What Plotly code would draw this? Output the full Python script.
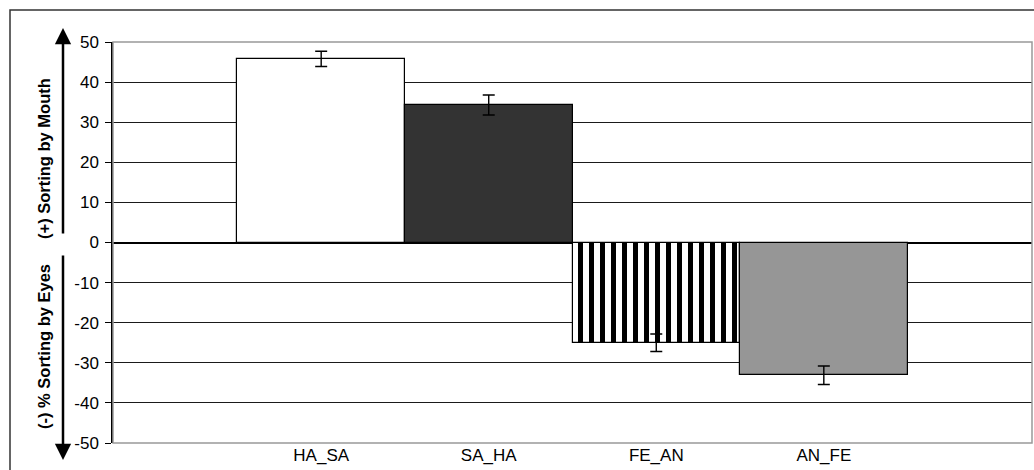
import plotly.graph_objects as go

categories = ["HA_SA", "SA_HA", "FE_AN", "AN_FE"]
values = [45.8, 34.3, -25.0, -33.1]
errors = [1.9, 2.5, 2.2, 2.3]
y_ticks = [50, 40, 30, 20, 10, 0, -10, -20, -30, -40, -50]
y_ticktext = [str(v) for v in y_ticks]

W, H = 1034, 470
L, R, T, B = 113, 1032, 42, 443

def px_x(p):
    return (p - L) / (R - L)

def px_y(p):
    return (B - p) / (B - T)

fills = ["#ffffff", "#333333", "#ffffff", "#969696"]
fig = go.Figure()
for i, (c, v, e) in enumerate(zip(categories, values, errors)):
    marker = dict(color=fills[i], line=dict(color="#000000", width=1.2))
    if i == 2:
        marker["pattern"] = dict(shape="|", fgcolor="#000000", bgcolor="#ffffff",
                                 fgopacity=1, size=11, solidity=0.45,
                                 fillmode="replace")
    fig.add_trace(go.Bar(
        x=[i], y=[v], width=1.0, marker=marker,
        error_y=dict(type="data", array=[e], visible=True, color="#000000",
                     thickness=1.4, width=6),
        showlegend=False,
    ))

fig.update_layout(
    width=W, height=H,
    margin=dict(l=L, r=W - R, t=T, b=H - B, pad=0),
    paper_bgcolor="#ffffff", plot_bgcolor="#ffffff",
    font=dict(family="Liberation Sans, Arial, sans-serif", color="#000000"),
    bargap=0,
)
fig.update_xaxes(
    range=[-1.2425, 4.2425],
    tickmode="array", tickvals=list(range(len(categories))), ticktext=categories,
    tickfont=dict(size=17), showgrid=False, zeroline=False, showline=False,
    ticks="", ticklabelstandoff=0,
)
fig.update_yaxes(
    range=[-50, 50], tickmode="array", tickvals=y_ticks, ticktext=y_ticktext,
    tickfont=dict(size=17), showgrid=True, gridcolor="#1a1a1a", gridwidth=1,
    zeroline=True, zerolinecolor="#000000", zerolinewidth=1.5,
    showline=True, linecolor="#000000", linewidth=1.5,
    ticks="outside", ticklen=6, tickcolor="#000000", tickwidth=1.2,
    ticklabelstandoff=3,
)

# plot area border (gray)
fig.add_shape(type="rect", xref="paper", yref="paper", x0=0, x1=1, y0=0, y1=1,
              line=dict(color="#999999", width=1.5), layer="above")
# outer chart border
fig.add_shape(type="rect", xref="paper", yref="paper",
              x0=px_x(10), x1=px_x(1040), y0=px_y(480), y1=px_y(10),
              line=dict(color="#333333", width=1.5))

# axis title texts
fig.add_annotation(text="<b>(+) Sorting by Mouth</b>", xref="paper", yref="paper",
                   x=px_x(44), y=px_y(159), textangle=-90, showarrow=False,
                   font=dict(size=16.5), xanchor="center", yanchor="middle")
fig.add_annotation(text="<b>(-) % Sorting by Eyes</b>", xref="paper", yref="paper",
                   x=px_x(44), y=px_y(347), textangle=-90, showarrow=False,
                   font=dict(size=16.5), xanchor="center", yanchor="middle")
# arrows
fig.add_annotation(text="", xref="paper", yref="paper", x=px_x(63), y=px_y(28),
                   ax=0, ay=207, axref="pixel", ayref="pixel", showarrow=True,
                   arrowhead=2, arrowsize=1.3, arrowwidth=2.5, arrowcolor="#000000")
fig.add_annotation(text="", xref="paper", yref="paper", x=px_x(63), y=px_y(460),
                   ax=0, ay=-206, axref="pixel", ayref="pixel", showarrow=True,
                   arrowhead=2, arrowsize=1.3, arrowwidth=2.5, arrowcolor="#000000")

fig.write_html("out.html", config={"displayModeBar": False},
               post_script="document.body.style.margin='0';document.body.style.overflow='hidden';")
